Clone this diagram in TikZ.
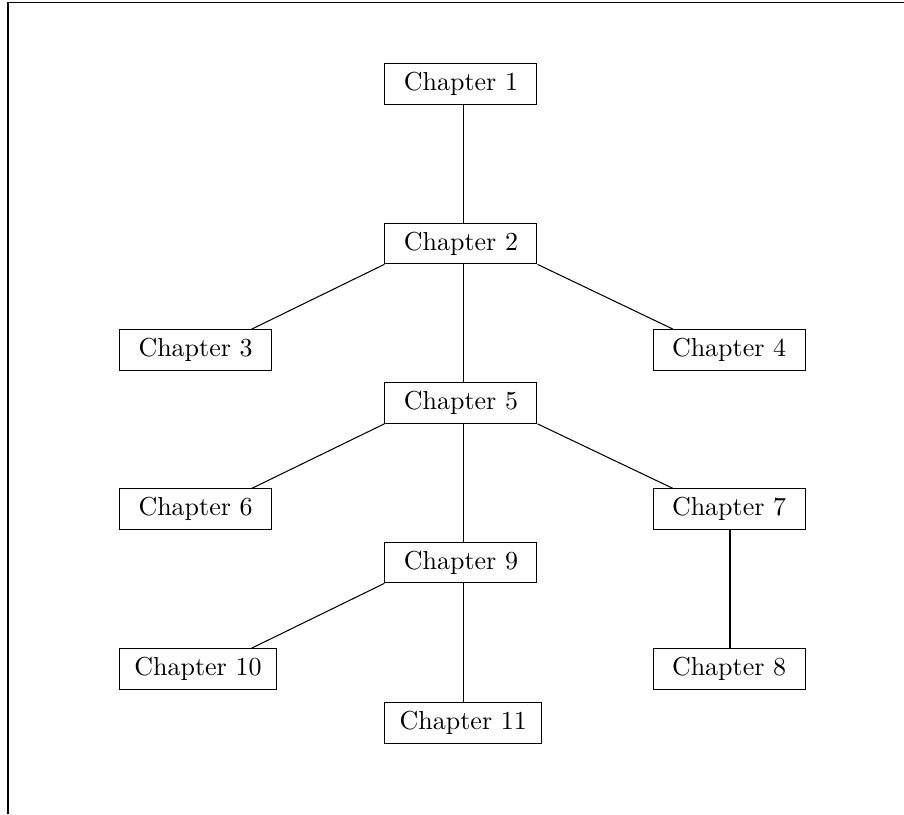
\documentclass[tikz,border=0pt]{standalone}
\usepackage{amsmath}
\usepackage{tikz}
\usetikzlibrary{positioning, calc}

\begin{document}
\begin{tikzpicture}[chap/.style={draw, anchor=west, minimum width=58.5pt, inner xsep=5.7pt}]
\useasboundingbox (0,0) rectangle (12.219,-11.003);
% frame
\draw (0.108,-11.003) -- (0.108,-0.034) -- (12.219,-0.034);
% columns for the links
\coordinate (midline) at (6.268,0);
\coordinate (rightline) at (9.867,0);
\coordinate (leftend) at (3.402,0);
\coordinate (rightend) at (9.097,0);
% chapters
\node[chap] (c1) at (5.195,-1.135) {Chapter 1};
\node[chap] (c2) at (5.195,-3.291) {Chapter 2};
\node[chap] (c3) at (1.609,-4.731) {Chapter 3};
\node[chap] (c4) at (8.820,-4.731) {Chapter 4};
\node[chap] (c5) at (5.195,-5.447) {Chapter 5};
\node[chap] (c6) at (1.609,-6.884) {Chapter 6};
\node[chap] (c7) at (8.820,-6.884) {Chapter 7};
\node[chap] (c9) at (5.195,-7.603) {Chapter 9};
\node[chap] (c10) at (1.609,-9.043) {Chapter 10};
\node[chap] (c8) at (8.820,-9.043) {Chapter 8};
\node[chap] (c11) at (5.195,-9.769) {Chapter 11};
% links
\draw (c1.south -| midline) -- (c2.north -| midline);
\draw (c2.south -| midline) -- (c5.north -| midline);
\draw (c5.south -| midline) -- (c9.north -| midline);
\draw (c9.south -| midline) -- (c11.north -| midline);
\draw (c7.south -| rightline) -- (c8.north -| rightline);
\draw (c2.south west) -- (c3.north -| leftend);
\draw (c2.south east) -- (c4.north -| rightend);
\draw (c5.south west) -- (c6.north -| leftend);
\draw (c5.south east) -- (c7.north -| rightend);
\draw (c9.south west) -- (c10.north -| leftend);
\end{tikzpicture}
\end{document}
